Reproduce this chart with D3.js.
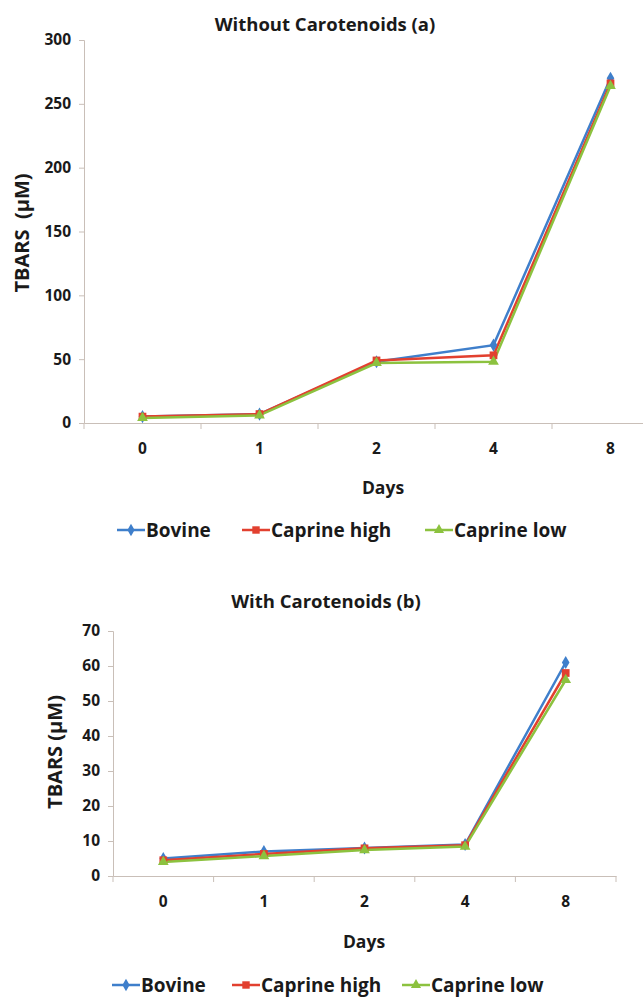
<!DOCTYPE html>
<html><head><meta charset="utf-8">
<script src="https://cdn.jsdelivr.net/npm/d3@7"></script>
<style>
body{margin:0;background:#fff;}
svg{display:block;font-family:"Open Sans",sans-serif;}
text{font-weight:700;fill:#1a1a1a;}
</style></head>
<body>
<svg id="c" width="643" height="997"></svg>
<script>
const days = ["0","1","2","4","8"];
const seriesNames = ["Bovine","Caprine high","Caprine low"];
const colors = ["#3f7fcb","#e2402f","#8cc23f"];
const symbols = [d3.symbolDiamond, d3.symbolSquare, d3.symbolTriangle];
// Panel (a) Without Carotenoids
const aBovine = [5, 7, 48, 61, 270];
const aCaprineHigh = [5, 7, 49, 53, 266];
const aCaprineLow = [4, 6, 47, 48, 264];
const aTicks = [0,50,100,150,200,250,300];
// Panel (b) With Carotenoids
const bBovine = [5, 7, 8, 9, 61];
const bCaprineHigh = [4.5, 6.3, 7.9, 8.8, 58];
const bCaprineLow = [4, 5.7, 7.4, 8.4, 56];
const bTicks = [0,10,20,30,40,50,60,70];

const svg = d3.select("#c");
const axisColor = "#c9bfb8";

function panel(cfg){
  const g = svg.append("g");
  const x = d3.scaleBand().domain(days).range([cfg.x0, cfg.x1]);
  const y = d3.scaleLinear().domain([0, cfg.ymax]).range([cfg.y0, cfg.y1]);
  const ya = g.append("g").attr("transform",`translate(${cfg.x0},0)`)
    .call(d3.axisLeft(y).tickValues(cfg.ticks).tickSize(5).tickPadding(8));
  ya.selectAll("path,line").attr("stroke",axisColor);
  ya.selectAll("text").style("font-size","15.5px").style("font-weight","700").attr("fill","#1a1a1a").style("font-family","'Open Sans',sans-serif");
  const xa = g.append("g").attr("transform",`translate(0,${cfg.y0})`)
    .call(d3.axisBottom(x).tickSize(0).tickPadding(20));
  xa.select("path").attr("stroke",axisColor);
  xa.selectAll("text").style("font-size","15.5px").style("font-weight","700").attr("fill","#1a1a1a").style("font-family","'Open Sans',sans-serif");
  const bounds = days.map(d=>x(d)).concat([x(days[days.length-1])+x.bandwidth()]);
  g.selectAll(".bt").data(bounds).enter().append("line")
    .attr("x1",d=>d).attr("x2",d=>d).attr("y1",cfg.y0).attr("y2",cfg.y0+6)
    .attr("stroke",axisColor);
  const line = d3.line().x((d,i)=>x(days[i])+x.bandwidth()/2).y(d=>y(d));
  cfg.data.forEach((vals,k)=>{
    g.append("path").datum(vals).attr("d",line).attr("fill","none")
      .attr("stroke",colors[k]).attr("stroke-width",2.5);
  });
  cfg.data.forEach((vals,k)=>{
    g.selectAll(".m"+k).data(vals).enter().append("path")
      .attr("transform",(d,i)=>`translate(${x(days[i])+x.bandwidth()/2},${y(d)})`)
      .attr("d",d3.symbol().type(symbols[k]).size(k===1?60:50))
      .attr("fill",colors[k]);
  });
  g.append("text").attr("x",cfg.titleX).attr("y",cfg.titleY).attr("text-anchor","middle")
    .style("font-size","18.5px").text(cfg.title);
  g.append("text").attr("transform",`translate(${cfg.ylabX},${cfg.ylabY}) rotate(-90)`)
    .attr("text-anchor","middle").style("font-size","20px").text(cfg.ylab);
  g.append("text").attr("x",cfg.xlabX).attr("y",cfg.xlabY).attr("text-anchor","middle")
    .style("font-size","17.5px").text("Days");
  cfg.legX.forEach((lx,k)=>{
    g.append("line").attr("x1",lx).attr("x2",lx+28).attr("y1",cfg.legY).attr("y2",cfg.legY)
      .attr("stroke",colors[k]).attr("stroke-width",2.5);
    g.append("path").attr("transform",`translate(${lx+14},${cfg.legY})`)
      .attr("d",d3.symbol().type(symbols[k]).size(k===1?55:45)).attr("fill",colors[k]);
    g.append("text").attr("x",lx+29).attr("y",cfg.legY+7).style("font-size","19px")
      .text(seriesNames[k]);
  });
}

panel({x0:84, x1:669, y0:423, y1:40, ymax:300, ticks:aTicks,
  data:[aBovine,aCaprineHigh,aCaprineLow],
  title:"Without Carotenoids (a)", titleX:325, titleY:31,
  ylab:"TBARS\u00a0\u00a0(μM)", ylabX:29, ylabY:233, xlabX:383, xlabY:494,
  legX:[117,242,425], legY:530});
panel({x0:113, x1:616, y0:876, y1:631, ymax:70, ticks:bTicks,
  data:[bBovine,bCaprineHigh,bCaprineLow],
  title:"With Carotenoids (b)", titleX:326, titleY:608,
  ylab:"TBARS (μM)", ylabX:62, ylabY:752, xlabX:364, xlabY:948,
  legX:[112,232,402], legY:985});
</script>
</body></html>
